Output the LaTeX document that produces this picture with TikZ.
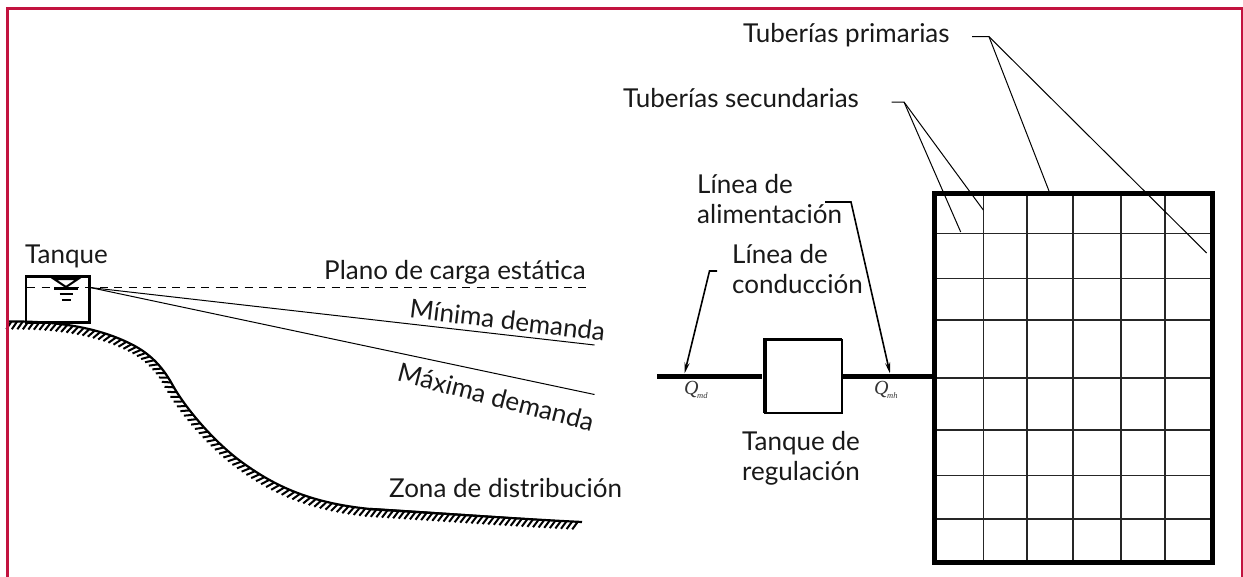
\documentclass[tikz,border=0pt]{standalone}
\usepackage{fontspec}
\setmainfont{Lato}
\newfontfamily\qfont{Liberation Serif}
\usetikzlibrary{decorations.markings,arrows.meta}
\definecolor{frameC}{HTML}{C2133F}
\tikzset{
  x=1pt,y=-1pt,
  lab/.style={font=\fontsize{26}{29.6}\selectfont,inner sep=0pt,text=black!90,anchor=base west},
  mlab/.style={font=\fontsize{26}{29.6}\selectfont,inner sep=0pt,text=black!90,align=left,anchor=north west},
  qlab/.style={inner sep=0pt,anchor=base west,text=black!80},
  box/.style={draw,inner sep=0pt,outer sep=0pt,anchor=north west},
  leader/.style={line width=1pt,black},
  pointer/.style={line width=1.6pt,black,-{Stealth[length=11pt,width=5pt]}},
  pipeline/.style={line width=5pt,black},
  gridline/.style={line width=1.4pt,black!85},
  slope/.style={line width=1pt,black},
  ground/.style={line width=2.2pt,black},
  hatch/.style={postaction={decorate},decoration={markings,
     mark=between positions 3pt and 1 step 5.6pt with {\draw[line width=2pt,black] (0,0) -- (-5.2,7.8);}}},
}
\newcommand{\qsym}[1]{{\qfont\itshape\fontsize{20}{20}\selectfont Q\kern-1.5pt\raisebox{-4pt}{\fontsize{8.5}{8.5}\selectfont #1}}}
\begin{document}
\begin{tikzpicture}
\useasboundingbox (0,0) rectangle (1243,576);
% left profile
\draw[ground,hatch] (8.5,321.5) .. controls (60,321) and (100,328) .. (133,345)
   .. controls (150,354) and (162,366) .. (172,384)
   .. controls (185,408) and (215,443) .. (243,463)
   .. controls (275,486) and (310,503) .. (370,509)
   .. controls (450,514) and (520,519) .. (582,522);
\fill (370,507.8) .. controls (450,512.8) and (520,517.8) .. (582,521.8)
   .. controls (520,519.2) and (450,515.2) .. (370,510.2) -- cycle;
% frame
\draw[frameC,line width=2.4pt] (7.5,577) -- (7.5,8.5) -- (1242.3,8.5) -- (1242.3,577);
% tank
\node[box,line width=2.2pt,minimum width=63.5pt,minimum height=46pt] (tank) at (26,276.5) {};
\coordinate (wl) at (66,287);
\draw[line width=2pt] (54,279) -- (78,279) -- (wl) -- cycle;
\draw[line width=2.4pt] (54,288.5) -- (78,288.5);
\draw[line width=2.2pt] (59.5,294) -- (72.5,294);
\draw[line width=2.2pt] (62,300) -- (70.5,300);
\coordinate (dashA) at (27,287.5);
\coordinate (dashB) at (590,287.5);
\coordinate (minE) at (594.5,345);
\coordinate (maxE) at (594.5,394.5);
\coordinate (src) at (90,287.5);
\draw[line width=1pt,dash pattern=on 8pt off 6.5pt] (dashA) -- (dashB);
\draw[slope] (src) -- (minE);
\draw[slope] (src) -- (maxE);
% labels left
\node[lab] (tanque) at (25,263) {Tanque};
\node[lab] (plano) at (324,279.5) {Plano de carga estática};
\node[lab,rotate=-6.8,anchor=center] (minima) at (507.5,320) {Mínima demanda};
\node[lab,rotate=-14.6,anchor=center] (maxima) at (496,397) {Máxima demanda};
\node[lab] (zona) at (389,497) {Zona de distribución};
% network
\foreach \v in {983.5,1027,1073,1121,1165} \draw[gridline] (\v,193) -- (\v,562);
\foreach \h in {233.5,278.5,320,378,430,475.7,519} \draw[gridline] (934,\h) -- (1212,\h);
\node[box,line width=5pt,minimum width=278pt,minimum height=369pt] (net) at (934,193) {};
% regulation tank
\node[box,line width=2pt,minimum width=76.5pt,minimum height=73.5pt] (reg) at (765,339.5) {};
\draw[line width=3.5pt] (reg.south west) -- (reg.north west) -- (reg.north east);
\coordinate (pin) at (657,376);
\coordinate (pinE) at (762,376);
\draw[pipeline] (pin) -- (pinE);
\draw[pipeline] (reg.east |- pin) -- (net.west |- pin);
% pointers
\coordinate (cA) at (717,271); \coordinate (cB) at (709.5,271); \coordinate (cC) at (684.5,373.5);
\draw[pointer] (cA) -- (cB) -- (cC);
\coordinate (aA) at (825,202); \coordinate (aB) at (851,202); \coordinate (aC) at (890,373.5);
\draw[pointer] (aA) -- (aB) -- (aC);
\node[qlab] (qmd) at (684,394) {\qsym{md}};
\node[qlab] (qmh) at (874,394) {\qsym{mh}};
\node[mlab] (lalim) at (697,174.5) {Línea de\\alimentación};
\node[mlab] (lcond) at (732,244.5) {Línea de\\conducción};
\node[mlab,align=center,anchor=north] (treg) at (801,431.5) {Tanque de\\regulación};
% leaders
\node[lab] (prim) at (743,42) {Tuberías primarias};
\node[lab] (sec) at (623,107) {Tuberías secundarias};
\coordinate (pA) at (972,36.7); \coordinate (pB) at (989,36.7);
\coordinate (p1) at (1206.7,253); \coordinate (p2) at (1049,191);
\draw[leader] (pA) -- (pB) -- (p1);
\draw[leader] (pB) -- (p2);
\coordinate (sA) at (891.7,102); \coordinate (sB) at (904,102);
\coordinate (s1) at (983.3,210); \coordinate (s2) at (960.7,232);
\draw[leader] (sA) -- (sB) -- (s1);
\draw[leader] (sB) -- (s2);
\end{tikzpicture}
\end{document}
